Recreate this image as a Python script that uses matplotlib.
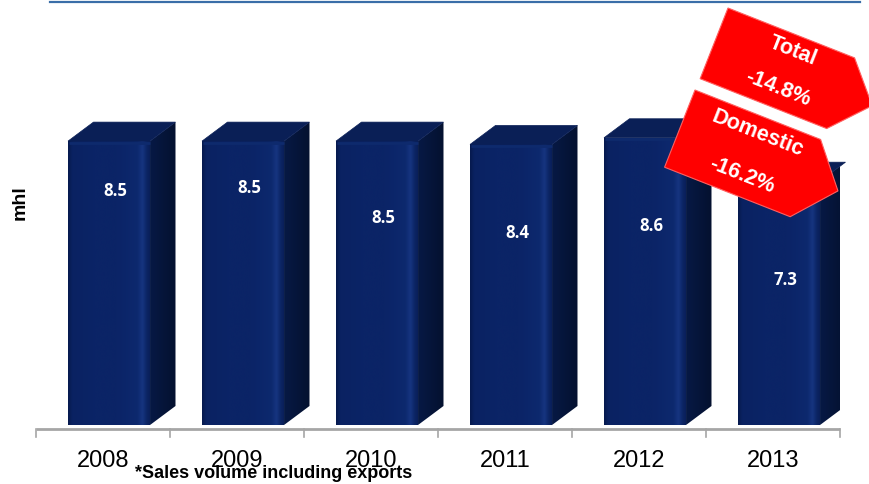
import matplotlib
matplotlib.use("Agg")
import matplotlib.pyplot as plt
import numpy as np
from matplotlib.colors import LinearSegmentedColormap
from matplotlib.patches import Polygon
from matplotlib.lines import Line2D

# Объём продаж, млн гл
YEARS = ["2008", "2009", "2010", "2011", "2012", "2013"]
VOLUME = [8.5, 8.5, 8.5, 8.4, 8.6, 7.3]
# высота подписей внутри столбцов (в единицах оси y)
LABEL_Y = [7.0, 7.1, 6.2, 5.75, 5.95, 4.35]

CALLOUTS = [("Total", "-14.8%"), ("Domestic", "-16.2%")]

W, H = 870, 484
PX = 33.4                       # пикселей на единицу по y
AX_L, AX_R, AX_T, AX_B, ZERO = 36, 840, 25, 440, 425

NAVY_FRONT = ["#06194d", "#0a2262", "#0b2466", "#0b2467", "#0d296e",
              "#163581", "#0c2565", "#081d55"]
NAVY_SIDE = ["#071945", "#04112f"]
NAVY_TOP = ["#0a1f56", "#0e2a6d"]
RED = "#ff0000"
AXIS_GREY = "#a6a6a6"
LINE_BLUE = "#3a6ea8"

NARROW = ["Liberation Sans Narrow", "Liberation Sans", "DejaVu Sans"]

fig = plt.figure(figsize=(W / 100, H / 100), dpi=100)
ax = fig.add_axes([AX_L / W, (H - AX_B) / H, (AX_R - AX_L) / W, (AX_B - AX_T) / H])
ax.set_xlim(-0.5, 5.5)
ax.set_ylim(-(AX_B - ZERO) / PX, (ZERO - AX_T) / PX)
ax.axis("off")

front_cmap = LinearSegmentedColormap.from_list(
    "front", list(zip([0, 0.05, 0.3, 0.6, 0.84, 0.9, 0.95, 1.0], NAVY_FRONT)))
side_cmap = LinearSegmentedColormap.from_list("side", NAVY_SIDE)

x_left, x_right = -0.261, 0.351      # передняя грань относительно центра
dx, dy = 0.19, 19 / PX               # глубина «3D»

for i, v in enumerate(VOLUME):
    x0, x1 = i + x_left, i + x_right
    # передняя грань с горизонтальным градиентом
    front = Polygon([(x0, 0), (x1, 0), (x1, v), (x0, v)], closed=True,
                    facecolor="none", edgecolor="none")
    ax.add_patch(front)
    grad = np.linspace(0, 1, 256).reshape(1, -1)
    im = ax.imshow(grad, cmap=front_cmap, extent=(x0, x1, 0, v),
                   aspect="auto", zorder=2, interpolation="bicubic")
    im.set_clip_path(front)
    # боковая грань
    side = Polygon([(x1, 0), (x1 + dx, dy), (x1 + dx, v + dy), (x1, v)],
                   closed=True, facecolor="none", edgecolor="none",
                   clip_on=False)
    ax.add_patch(side)
    im2 = ax.imshow(grad, cmap=side_cmap, extent=(x1, x1 + dx, 0, v + dy),
                    aspect="auto", zorder=2, interpolation="bicubic")
    im2.set_clip_path(side)
    # верхняя грань
    ax.add_patch(Polygon([(x0, v), (x1, v), (x1 + dx, v + dy), (x0 + dx, v + dy)],
                         closed=True, facecolor=NAVY_TOP[0], edgecolor=NAVY_TOP[0],
                         lw=0.5, zorder=3, clip_on=False))
    ax.plot([x0 + 0.01, x1], [v - 0.05, v - 0.05], color=NAVY_TOP[1], lw=2,
            zorder=3, solid_capstyle="butt")
    ax.text(i + 0.09, LABEL_Y[i], f"{v:.1f}", color="white", fontsize=12,
            fontweight="bold", family=["Open Sans", "DejaVu Sans"],
            ha="center", va="center", zorder=4)

ax.set_xlim(-0.5, 5.5)

# ось X: линия, засечки на границах категорий, подписи лет
y_axis = -(429 - ZERO) / PX
ax.plot([-0.5, 5.5], [y_axis, y_axis], color=AXIS_GREY, lw=2, clip_on=False,
        solid_capstyle="butt")
for b in np.arange(-0.5, 6.0, 1.0):
    ax.plot([b, b], [y_axis, y_axis - 8 / PX], color=AXIS_GREY, lw=1.2,
            clip_on=False)
for i, year in enumerate(YEARS):
    fig.text((AX_L + (i + 0.5) * (AX_R - AX_L) / 6) / W, 1 - 461 / H, year,
             fontsize=17, family=NARROW, ha="center", va="center")

fig.text(20 / W, 1 - 203 / H, "mhl", rotation=90, fontsize=14,
         fontweight="bold", family=["Liberation Sans", "DejaVu Sans"],
         ha="center", va="center")
fig.text(135 / W, 1 - 474 / H, "*Sales volume including exports",
         fontsize=13, fontweight="bold", family=NARROW, ha="left", va="center")

# синяя линия сверху
fig.add_artist(Line2D([50 / W, 860 / W], [1 - 1.5 / H, 1 - 1.5 / H],
                      color=LINE_BLUE, lw=1.6))

# красные стрелки-плашки (координаты в пикселях картинки, y вниз)
ang = np.deg2rad(21.5)
u_dir = np.array([np.cos(ang), np.sin(ang)])
v_dir = np.array([-np.sin(ang), np.cos(ang)])


def to_fig(p):
    return (p[0] / W, 1 - p[1] / H)


def callout(origin, w, h, ext, texts, text_pos):
    o = np.array(origin, dtype=float)
    local = [(0, 0), (w, 0), (w + ext, h / 2), (w, h), (0, h)]
    pts = [to_fig(o + a * u_dir + b * v_dir) for a, b in local]
    fig.add_artist(Polygon(pts, closed=True, facecolor=RED,
                           edgecolor="#ff6060", lw=0.8,
                           transform=fig.transFigure, zorder=5))
    for t, (a, b) in zip(texts, text_pos):
        fig.text(*to_fig(o + a * u_dir + b * v_dir), t, color="white",
                 fontsize=15.5, fontweight="bold",
                 family=["Liberation Sans", "DejaVu Sans"], rotation=-21.5,
                 rotation_mode="anchor", ha="center", va="center", zorder=6)


callout((728, 8), 136, 76, 34, CALLOUTS[0], [(76, 16), (76, 56)])
callout((695, 90), 135, 83, 35, CALLOUTS[1], [(74, 18), (75, 62)])

plt.savefig("out.png", dpi=100)
plt.close()
